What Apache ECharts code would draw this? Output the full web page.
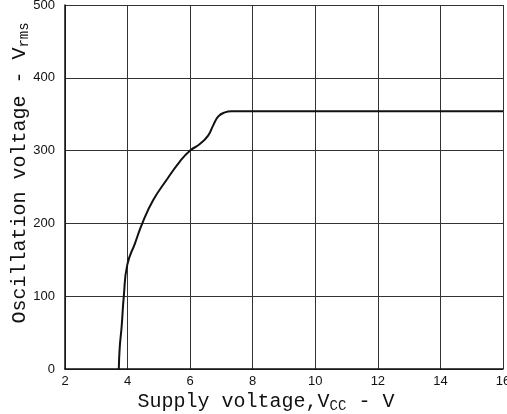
<!DOCTYPE html>
<html lang="en">
<head>
<meta charset="UTF-8">
<title>Oscillation voltage vs supply voltage</title>
<script src="https://cdn.jsdelivr.net/npm/echarts@6/dist/echarts.min.js"></script>
<style>
  html, body { margin: 0; padding: 0; background: #fff; }
  #main { width: 507px; height: 414px; }
</style>
</head>
<body>
<div id="main"></div>
<script>
// supply voltage Vcc (V)
var vcc = [3.72, 3.75, 3.81, 3.88, 3.99, 4.24, 4.48, 4.82, 5.25, 5.67, 6.0, 6.31, 6.58, 6.74, 6.9, 7.11, 7.32, 8.5, 16];
// oscillation voltage (Vrms)
var vout = [0, 30, 58, 100, 143, 173, 201, 232, 260, 285, 300, 309, 321, 335, 347, 352.5, 354, 354, 354];

var xTicks = [2, 4, 6, 8, 10, 12, 14, 16];
var yTicks = [0, 100, 200, 300, 400, 500];

var points = vcc.map(function (v, i) { return [v, vout[i]]; });

var myChart = echarts.init(document.getElementById('main'));

function subStyle() {
    return {
        fontFamily: 'Liberation Mono',
        fontSize: 14,
        color: '#111',
        verticalAlign: 'bottom',
        padding: [9, 0, 0, 0]
    };
}

var option = {
    animation: false,
    backgroundColor: '#fff',
    grid: { left: 65, right: 4, top: 5, bottom: 45, outerBoundsMode: 'none', containLabel: false },
    xAxis: {
        type: 'value',
        min: 2,
        max: 16,
        interval: 2,
        name: 'Supply voltage,V{sub|CC} - V',
        nameLocation: 'middle',
        nameGap: 21,
        nameMoveOverlap: false,
        nameTextStyle: {
            fontFamily: 'Liberation Mono',
            fontSize: 20,
            color: '#111',
            padding: [0, 36, 0, 0],
            rich: { sub: subStyle() }
        },
        axisLine: { lineStyle: { color: '#111', width: 1.5 } },
        axisTick: { show: false },
        axisLabel: {
            fontFamily: 'Liberation Sans',
            fontSize: 13,
            color: '#111',
            margin: 6
        },
        splitLine: { lineStyle: { color: '#333', width: 1 } }
    },
    yAxis: {
        type: 'value',
        min: 0,
        max: 500,
        interval: 100,
        name: 'Oscillation voltage - V{sub|rms}',
        nameLocation: 'middle',
        nameRotate: 90,
        nameGap: 34,
        nameMoveOverlap: false,
        nameTextStyle: {
            fontFamily: 'Liberation Mono',
            fontSize: 20,
            color: '#111',
            padding: [0, 0, 0, 28],
            rich: { sub: subStyle() }
        },
        axisLine: { show: true, lineStyle: { color: '#111', width: 1.5 } },
        axisTick: { show: false },
        axisLabel: {
            fontFamily: 'Liberation Sans',
            fontSize: 13,
            color: '#111',
            margin: 10
        },
        splitLine: { lineStyle: { color: '#333', width: 1 } }
    },
    series: [{
        type: 'line',
        data: points,
        smooth: 0.5,
        symbol: 'none',
        lineStyle: { color: '#111', width: 2 }
    }]
};

myChart.setOption(option);
</script>
</body>
</html>
